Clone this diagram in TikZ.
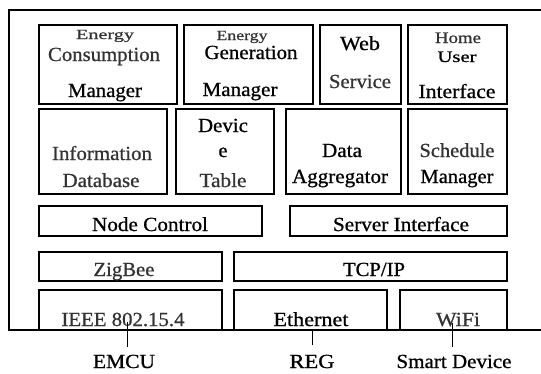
\documentclass[tikz,border=0pt]{standalone}
\usepackage{fontspec}
\setmainfont{Liberation Serif}
\newfontfamily\heavy[FakeBold=0.8]{Liberation Serif}
\usetikzlibrary{fit}
\tikzset{
  box/.style={draw, line width=1.4pt, inner sep=0pt},
  frame/.style={line width=1.4pt},
  txt/.style={anchor=base, inner sep=0pt, font=\heavy\fontsize{20}{20}\selectfont, text=black},
  lite/.style={text=black!80},
  small/.style={font=\heavy\fontsize{14}{14}\selectfont},
  mid/.style={font=\heavy\fontsize{16}{16}\selectfont},
  lead/.style={line width=0.8pt},
}
\newcommand\tx[6][]{\node[txt,#1] (#2) at (#3,#4) {\resizebox{#5pt}{\height}{#6}};}
\begin{document}
\begin{tikzpicture}[x=1pt,y=-1pt]
\useasboundingbox (0,0) rectangle (541,373);
% outer frame
\draw[frame] (541,10) -- (9,10) -- (9,330) -- (541,330);
% boxes
\node[box, fit={(39,25) (177,104)}] (ecm) {};
\node[box, fit={(184,25) (313,104)}] (egm) {};
\node[box, fit={(320,25) (401,104)}] (web) {};
\node[box, fit={(408,25) (507,104)}] (hui) {};
\node[box, fit={(39,109) (167,194)}] (idb) {};
\node[box, fit={(176,109) (274,194)}] (dev) {};
\node[box, fit={(286,109) (401,194)}] (agg) {};
\node[box, fit={(408,109) (507,194)}] (sch) {};
\node[box, fit={(39,206) (262,236)}] (nc) {};
\node[box, fit={(290,206) (507,236)}] (si) {};
\node[box, fit={(39,252) (222,281)}] (zb) {};
\node[box, fit={(234,252) (507,281)}] (tcp) {};
\node[box, fit={(39,290) (222,330)}] (ieee) {};
\node[box, fit={(234,290) (387,330)}] (eth) {};
\node[box, fit={(400,290) (507,330)}] (wifi) {};
% texts
\tx[small,lite]{t1}{105}{39}{58}{Energy}
\tx[lite]{t2}{104}{61}{112}{Consumption}
\tx{t3}{105}{97}{74}{Manager}
\tx[small,lite]{t4}{242}{40}{51}{Energy}
\tx{t5}{251}{59}{93}{Generation}
\tx{t6}{240}{96}{75}{Manager}
\tx{t7}{360}{50}{40}{Web}
\tx[lite]{t8}{360}{88}{62}{Service}
\tx[mid,lite]{t9}{458}{43}{46}{Home}
\tx[mid]{t10}{457}{62}{39}{User}
\tx{t11}{457}{98}{77}{Interface}
\tx[lite]{t12}{102}{160}{100}{Information}
\tx[lite]{t13}{101}{187}{77}{Database}
\tx{t14}{223}{132}{50}{Devic}
\tx{t15}{223}{157}{9}{e}
\tx[lite]{t16}{223}{187}{47}{Table}
\tx{t17}{342}{157}{40}{Data}
\tx{t18}{340}{183}{96}{Aggregator}
\tx[lite]{t19}{457}{157}{75}{Schedule}
\tx{t20}{457}{183}{73}{Manager}
\tx{t21}{150}{231}{116}{Node Control}
\tx{t22}{401}{231}{136}{Server Interface}
\tx[lite]{t23}{124}{276}{61}{ZigBee}
\tx{t24}{374}{276}{62}{TCP/IP}
\tx[lite]{t25}{123}{326}{123}{IEEE 802.15.4}
\tx{t26}{311}{326}{75}{Ethernet}
\tx[lite]{t27}{458}{326}{44}{WiFi}
\tx{emcu}{124}{368}{62}{EMCU}
\tx{reg}{312}{368}{45}{REG}
\tx{smart}{454}{368}{115}{Smart Device}
% leads
\coordinate (emcuA) at (127,322);
\coordinate (emcuB) at (127,347);
\coordinate (regA) at (312,330);
\coordinate (regB) at (312,345);
\coordinate (smA) at (452,323);
\coordinate (smB) at (452,347);
\draw[lead] (emcuA) -- (emcuB);
\draw[lead] (regA) -- (regB);
\draw[lead] (smA) -- (smB);
\end{tikzpicture}
\end{document}
